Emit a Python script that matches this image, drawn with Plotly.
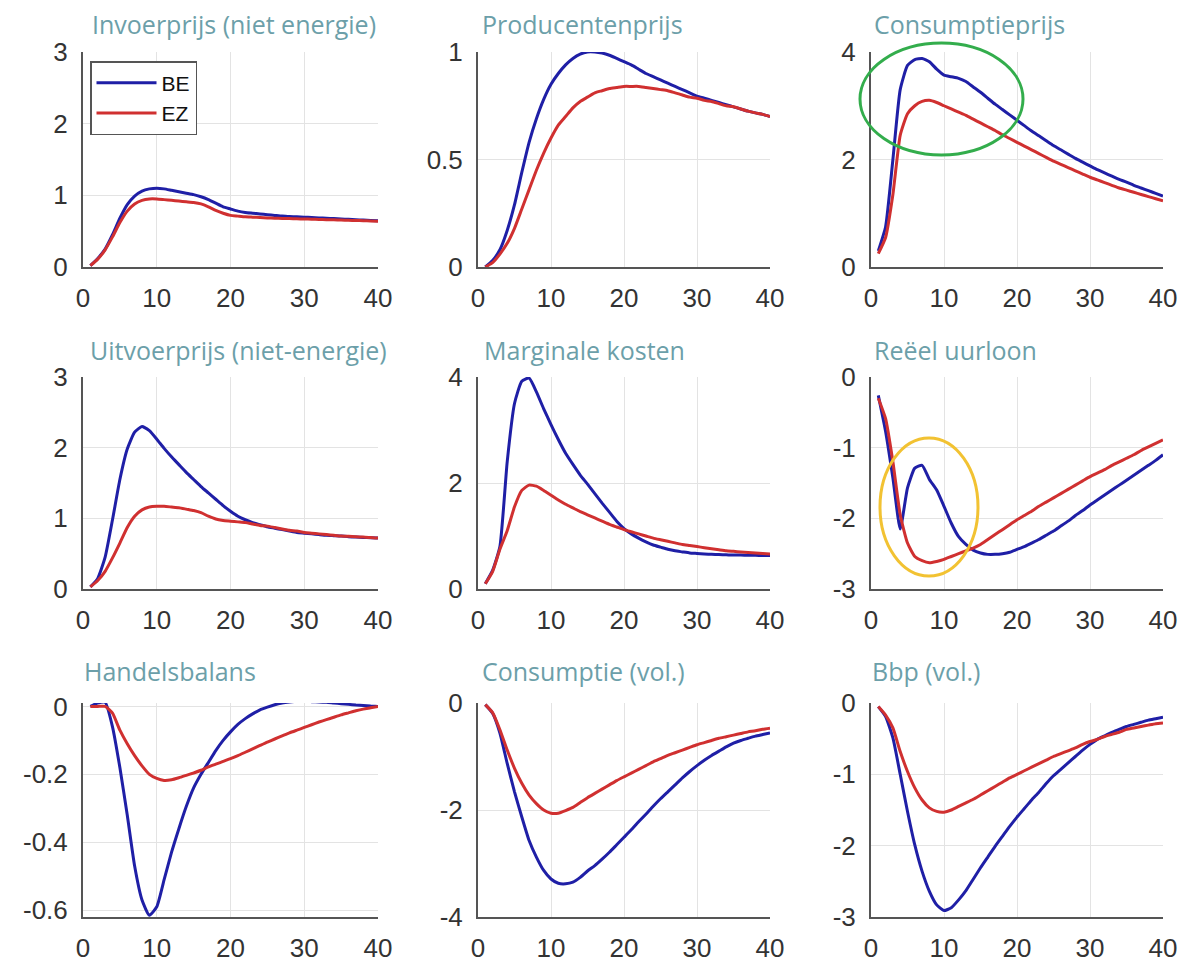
import plotly.graph_objects as go

W, H = 1187, 963
quarters = list(range(1, 41))

titles = ["Invoerprijs (niet energie)", "Producentenprijs", "Consumptieprijs",
          "Uitvoerprijs (niet-energie)", "Marginale kosten", "Reëel uurloon",
          "Handelsbalans", "Consumptie (vol.)", "Bbp (vol.)"]

invoer_be = [0.02,0.12,0.25,0.45,0.68,0.87,0.99,1.06,1.09,1.10,1.09,1.07,1.05,1.03,1.01,0.98,0.94,0.89,0.84,0.81,
             0.78,0.76,0.75,0.74,0.73,0.72,0.71,0.705,0.70,0.695,0.69,0.685,0.68,0.675,0.67,0.665,0.66,0.655,0.65,0.645]
invoer_ez = [0.02,0.11,0.24,0.42,0.62,0.78,0.88,0.93,0.95,0.95,0.94,0.93,0.92,0.91,0.90,0.88,0.84,0.79,0.75,0.72,
             0.71,0.70,0.695,0.69,0.685,0.68,0.678,0.675,0.672,0.67,0.667,0.664,0.661,0.658,0.655,0.652,0.649,0.646,0.643,0.64]

prod_be = [0.0,0.03,0.08,0.17,0.29,0.44,0.58,0.69,0.78,0.85,0.90,0.94,0.97,0.99,1.0,1.0,0.995,0.985,0.97,0.955,
           0.94,0.92,0.90,0.885,0.87,0.855,0.84,0.825,0.81,0.795,0.785,0.775,0.765,0.755,0.745,0.735,0.725,0.717,0.71,0.70]
prod_ez = [0.0,0.02,0.06,0.11,0.18,0.27,0.36,0.45,0.53,0.60,0.66,0.70,0.74,0.77,0.79,0.81,0.82,0.83,0.835,0.84,
           0.84,0.84,0.835,0.83,0.825,0.82,0.81,0.80,0.79,0.785,0.775,0.77,0.76,0.75,0.745,0.735,0.725,0.717,0.71,0.70]

cpi_be = [0.3,0.75,2.0,3.3,3.75,3.86,3.88,3.82,3.68,3.57,3.54,3.51,3.45,3.35,3.25,3.14,3.03,2.93,2.83,2.73,
          2.63,2.53,2.44,2.35,2.26,2.18,2.10,2.02,1.95,1.88,1.81,1.75,1.69,1.63,1.58,1.52,1.47,1.42,1.37,1.32]
cpi_ez = [0.25,0.55,1.35,2.45,2.85,3.0,3.08,3.1,3.06,3.0,2.94,2.88,2.82,2.75,2.68,2.61,2.54,2.46,2.39,2.32,
          2.25,2.18,2.11,2.04,1.97,1.91,1.85,1.79,1.73,1.67,1.62,1.57,1.52,1.47,1.43,1.39,1.35,1.31,1.27,1.23]

uitvoer_be = [0.03,0.15,0.45,0.98,1.55,1.98,2.22,2.30,2.24,2.12,1.99,1.87,1.76,1.65,1.55,1.45,1.36,1.27,1.18,1.10,
              1.03,0.98,0.94,0.91,0.88,0.86,0.84,0.82,0.80,0.79,0.78,0.77,0.76,0.755,0.75,0.74,0.735,0.73,0.725,0.72]
uitvoer_ez = [0.03,0.12,0.25,0.44,0.65,0.87,1.03,1.12,1.16,1.17,1.17,1.16,1.15,1.13,1.11,1.08,1.03,0.99,0.97,0.96,
              0.95,0.94,0.92,0.90,0.89,0.87,0.85,0.83,0.82,0.80,0.79,0.78,0.77,0.76,0.75,0.745,0.74,0.735,0.73,0.72]

mk_be = [0.1,0.35,0.8,2.4,3.5,3.92,3.98,3.72,3.40,3.10,2.82,2.56,2.35,2.15,1.98,1.80,1.62,1.45,1.28,1.14,
         1.04,0.96,0.89,0.83,0.79,0.75,0.72,0.70,0.68,0.67,0.66,0.655,0.65,0.645,0.64,0.64,0.635,0.635,0.63,0.63]
mk_ez = [0.1,0.33,0.75,1.1,1.55,1.86,1.96,1.94,1.86,1.77,1.68,1.60,1.53,1.46,1.40,1.34,1.28,1.22,1.17,1.12,
         1.08,1.04,1.00,0.96,0.93,0.90,0.87,0.84,0.82,0.80,0.78,0.76,0.74,0.72,0.71,0.70,0.69,0.68,0.67,0.66]

loon_be = [-0.26,-0.77,-1.43,-2.15,-1.57,-1.29,-1.25,-1.45,-1.60,-1.83,-2.07,-2.26,-2.37,-2.45,-2.49,-2.51,-2.51,-2.50,-2.48,-2.44,
           -2.40,-2.35,-2.30,-2.24,-2.18,-2.11,-2.04,-1.96,-1.89,-1.81,-1.74,-1.67,-1.60,-1.53,-1.46,-1.39,-1.32,-1.25,-1.18,-1.10]
loon_ez = [-0.30,-0.59,-1.20,-1.95,-2.35,-2.54,-2.60,-2.63,-2.61,-2.58,-2.54,-2.50,-2.46,-2.42,-2.37,-2.30,-2.23,-2.16,-2.09,-2.02,
           -1.96,-1.90,-1.83,-1.77,-1.71,-1.65,-1.59,-1.53,-1.47,-1.41,-1.36,-1.31,-1.25,-1.20,-1.15,-1.10,-1.04,-0.99,-0.94,-0.89]

handel_be = [0.0,0.01,0.012,-0.06,-0.18,-0.32,-0.47,-0.57,-0.615,-0.59,-0.51,-0.43,-0.36,-0.295,-0.24,-0.20,-0.165,-0.13,-0.10,-0.075,
             -0.053,-0.036,-0.022,-0.01,-0.002,0.005,0.01,0.013,0.015,0.015,0.014,0.013,0.012,0.01,0.008,0.006,0.004,0.003,0.001,0.0]
handel_ez = [0.0,0.0,0.0,-0.02,-0.07,-0.11,-0.145,-0.175,-0.20,-0.212,-0.218,-0.216,-0.21,-0.203,-0.196,-0.188,-0.178,-0.17,-0.162,-0.154,
             -0.145,-0.135,-0.125,-0.115,-0.105,-0.096,-0.087,-0.078,-0.07,-0.062,-0.054,-0.046,-0.039,-0.032,-0.025,-0.019,-0.013,-0.008,-0.004,0.0]

cons_be = [-0.03,-0.19,-0.56,-1.13,-1.66,-2.13,-2.57,-2.88,-3.13,-3.29,-3.37,-3.38,-3.35,-3.26,-3.14,-3.04,-2.92,-2.79,-2.65,-2.51,
           -2.37,-2.22,-2.08,-1.93,-1.79,-1.66,-1.53,-1.40,-1.28,-1.17,-1.07,-0.98,-0.90,-0.82,-0.75,-0.70,-0.66,-0.62,-0.59,-0.56]
cons_ez = [-0.03,-0.18,-0.50,-0.88,-1.22,-1.50,-1.72,-1.88,-2.00,-2.06,-2.06,-2.01,-1.95,-1.86,-1.77,-1.69,-1.61,-1.53,-1.45,-1.38,
           -1.31,-1.24,-1.17,-1.10,-1.04,-0.98,-0.93,-0.88,-0.83,-0.78,-0.74,-0.70,-0.66,-0.63,-0.60,-0.57,-0.54,-0.52,-0.49,-0.47]

bbp_be = [-0.05,-0.19,-0.49,-1.0,-1.52,-1.99,-2.36,-2.64,-2.83,-2.91,-2.87,-2.76,-2.63,-2.47,-2.31,-2.16,-2.01,-1.87,-1.73,-1.60,
          -1.48,-1.36,-1.25,-1.13,-1.02,-0.93,-0.84,-0.75,-0.66,-0.58,-0.51,-0.46,-0.41,-0.37,-0.33,-0.30,-0.27,-0.24,-0.22,-0.20]
bbp_ez = [-0.05,-0.17,-0.35,-0.68,-0.96,-1.19,-1.36,-1.47,-1.52,-1.53,-1.50,-1.45,-1.40,-1.35,-1.29,-1.23,-1.17,-1.11,-1.05,-1.0,
          -0.95,-0.90,-0.85,-0.80,-0.75,-0.71,-0.67,-0.63,-0.58,-0.54,-0.51,-0.47,-0.44,-0.41,-0.37,-0.35,-0.33,-0.31,-0.29,-0.28]

series_be = [invoer_be, prod_be, cpi_be, uitvoer_be, mk_be, loon_be, handel_be, cons_be, bbp_be]
series_ez = [invoer_ez, prod_ez, cpi_ez, uitvoer_ez, mk_ez, loon_ez, handel_ez, cons_ez, bbp_ez]

y_ranges = [[0, 3], [0, 1], [0, 4], [0, 3], [0, 4], [-3, 0], [-0.62, 0.01], [-4, 0], [-3, 0]]
y_ticks = [[0, 1, 2, 3], [0, 0.5, 1], [0, 2, 4], [0, 1, 2, 3], [0, 2, 4], [-3, -2, -1, 0],
           [-0.6, -0.4, -0.2, 0], [-4, -2, 0], [-3, -2, -1, 0]]
y_ticktext = [["0", "1", "2", "3"], ["0", "0.5", "1"], ["0", "2", "4"], ["0", "1", "2", "3"], ["0", "2", "4"],
              ["-3", "-2", "-1", "0"], ["-0.6", "-0.4", "-0.2", "0"], ["-4", "-2", "0"], ["-3", "-2", "-1", "0"]]
x_ticks = [0, 10, 20, 30, 40]

BLUE = "#1f1fa6"
RED = "#d03030"
TITLE_COL = "#6c9fa9"
AX_COL = "#555555"
GRID_COL = "#e3e3e3"

# plot-area pixel boxes (left, right) and (top, bottom)
col_px = [(83, 378), (478, 770), (871, 1163)]
row_px = [(52, 267), (377, 589), (703, 917)]
title_x_px = [[90, 480, 872], [88, 482, 872], [82, 480, 870]]
title_y_px = [24, 350, 671]

fig = go.Figure()
layout = dict(
    template="none",
    width=W, height=H, margin=dict(l=0, r=0, t=0, b=0, pad=0, autoexpand=False),
    paper_bgcolor="white", plot_bgcolor="white",
    font=dict(family="Liberation Sans, Arial, sans-serif", size=26, color="#333333"),
    annotations=[], shapes=[], showlegend=True,
)

for i in range(9):
    r, c = divmod(i, 3)
    n = "" if i == 0 else str(i + 1)
    xa, ya = "x" + n, "y" + n
    fig.add_trace(go.Scatter(x=quarters, y=series_be[i], mode="lines", name="BE",
                             line=dict(color=BLUE, width=3, shape="spline", smoothing=0.5),
                             xaxis=xa, yaxis=ya, showlegend=(i == 0), legendgroup="BE"))
    fig.add_trace(go.Scatter(x=quarters, y=series_ez[i], mode="lines", name="EZ",
                             line=dict(color=RED, width=3, shape="spline", smoothing=0.5),
                             xaxis=xa, yaxis=ya, showlegend=(i == 0), legendgroup="EZ"))
    l, rr = col_px[c]
    t, b = row_px[r]
    layout["xaxis" + n] = dict(
        domain=[l / W, rr / W], anchor=ya, range=[0, 40], tickvals=x_ticks,
        showline=True, linecolor=AX_COL, linewidth=2, showgrid=True, gridcolor=GRID_COL,
        gridwidth=1, zeroline=False, ticks="", ticklabelstandoff=7, automargin=False,
        tickfont=dict(size=26, color="#333333"), fixedrange=True)
    layout["yaxis" + n] = dict(
        domain=[1 - b / H, 1 - t / H], anchor=xa, range=y_ranges[i], tickvals=y_ticks[i],
        ticktext=y_ticktext[i], showline=True, linecolor=AX_COL, linewidth=2, showgrid=True,
        gridcolor=GRID_COL, gridwidth=1, zeroline=False, ticks="", ticklabelstandoff=8,
        automargin=False, tickfont=dict(size=26, color="#333333"), fixedrange=True)
    layout["annotations"].append(dict(
        text=titles[i], xref="paper", yref="paper", x=title_x_px[r][c] / W, y=1 - title_y_px[r] / H,
        xanchor="left", yanchor="middle", showarrow=False,
        font=dict(family="Open Sans, Noto Sans, sans-serif", size=25, color=TITLE_COL)))

# highlight ellipses
layout["shapes"].append(dict(type="circle", xref="paper", yref="paper",
                             x0=860 / W, x1=1023 / W, y0=1 - 155 / H, y1=1 - 43 / H,
                             line=dict(color="#33ad4c", width=3)))
layout["shapes"].append(dict(type="circle", xref="paper", yref="paper",
                             x0=880 / W, x1=978 / W, y0=1 - 576 / H, y1=1 - 438 / H,
                             line=dict(color="#f2c232", width=3)))

layout["legend"] = dict(x=90 / W, y=1 - 61 / H, xanchor="left", yanchor="top",
                        bgcolor="white", bordercolor="#555555", borderwidth=1.5,
                        font=dict(family="Liberation Sans, Arial, sans-serif", size=21, color="#111111"),
                        itemwidth=60, tracegroupgap=0)
fig.update_layout(**layout)
fig.write_html("out.html")
